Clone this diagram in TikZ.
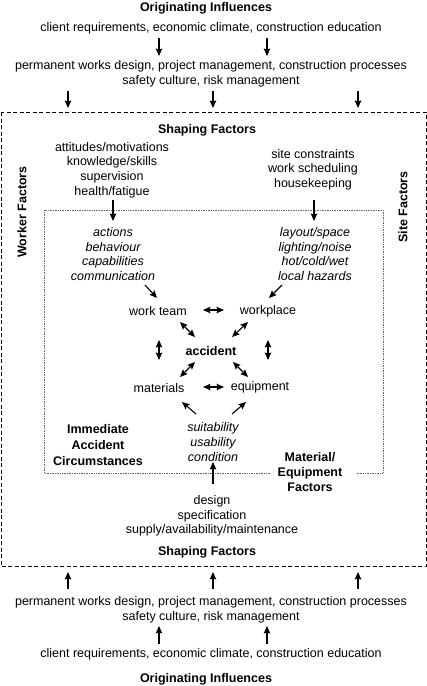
\documentclass[tikz,border=0pt]{standalone}
\usepackage{fontspec}
\setmainfont{Liberation Sans}
\usetikzlibrary{arrows.meta}
\begin{document}
\begin{tikzpicture}[x=1pt,y=-1pt,
  txt/.style={font=\fontsize{12.5}{14.7}\selectfont, inner sep=0pt, align=center},
  btxt/.style={txt, font=\fontsize{12.5}{14.7}\selectfont\bfseries},
  itxt/.style={txt, font=\fontsize{12.5}{14.7}\selectfont\itshape},
  arr/.style={line width=1.1pt, -{Stealth[length=7.5pt,width=6.5pt,inset=1.2pt]}},
  darr/.style={line width=1.1pt, {Stealth[length=7.5pt,width=6.5pt,inset=1.2pt]}-{Stealth[length=7.5pt,width=6.5pt,inset=1.2pt]}},
  outerbox/.style={line width=1pt, dash pattern=on 4pt off 2.5pt},
  innerbox/.style={line width=0.8pt, black!60, dash pattern=on 0.8pt off 0.9pt}]
\useasboundingbox (0,0) rectangle (427,686);

% boxes
\draw[outerbox] (1,112) rectangle (426,566);
\draw[innerbox] (270,473) -- (44,473) -- (44,210) -- (383,210) -- (383,473) -- (357,473);

% top texts
\node[btxt] (orig1) at (206,8) {Originating Influences};
\node[txt] (client1) at (211,28) {client requirements, economic climate, construction education};
\node[txt] (perm1) at (211,74) {permanent works design, project management, construction processes\\safety culture, risk management};
\node[btxt] (shape1) at (207,130) {Shaping Factors};

\node[txt] (worker) at (112,170) {attitudes/motivations\\knowledge/skills\\supervision\\health/fatigue};
\node[txt] (site) at (313,169.5) {site constraints\\work scheduling\\housekeeping};

\node[btxt, rotate=90] (wf) at (22,212) {Worker Factors};
\node[btxt, rotate=90] (sf) at (403,207) {Site Factors};

\node[itxt] (actions) at (113,254) {actions\\behaviour\\capabilities\\communication};
\node[itxt] (layout) at (315,254) {layout/space\\lighting/noise\\hot/cold/wet\\local hazards};

\node[txt] (team) at (158,311) {work team};
\node[txt] (place) at (268,311) {workplace};
\node[btxt] (acc) at (211,351) {accident};
\node[txt] (mat) at (159,388) {materials};
\node[txt] (equip) at (260,387) {equipment};

\node[itxt] (suit) at (213,442) {suitability\\usability\\condition};
\node[btxt, font=\fontsize{12.5}{16}\selectfont\bfseries] (imm) at (98,445) {Immediate\\Accident\\Circumstances};
\node[btxt, font=\fontsize{12.5}{15}\selectfont\bfseries] (meq) at (310,472) {Material/\\Equipment\\Factors};

\node[txt] (design) at (212,516) {design\\specification\\supply/availability/maintenance};
\node[btxt] (shape2) at (207,552) {Shaping Factors};
\node[txt] (perm2) at (211,609.5) {permanent works design, project management, construction processes\\safety culture, risk management};
\node[txt] (client2) at (211,654) {client requirements, economic climate, construction education};
\node[btxt] (orig2) at (206,679) {Originating Influences};

% coordinates for arrows
\coordinate (t1a) at (159,38); \coordinate (t1b) at (159,56);
\coordinate (t2a) at (267,38); \coordinate (t2b) at (267,56);
\coordinate (t3a) at (68,91);  \coordinate (t3b) at (68,108);
\coordinate (t4a) at (213,91); \coordinate (t4b) at (213,108);
\coordinate (t5a) at (358,91); \coordinate (t5b) at (358,108);
\coordinate (w1a) at (113,200); \coordinate (w1b) at (113,221);
\coordinate (s1a) at (314,200); \coordinate (s1b) at (314,221);
\coordinate (d1a) at (145,285); \coordinate (d1b) at (157,298);
\coordinate (d2a) at (282,285); \coordinate (d2b) at (269,298);
\coordinate (h1a) at (203,310); \coordinate (h1b) at (224,310);
\coordinate (q1a) at (180,322); \coordinate (q1b) at (195,337);
\coordinate (q2a) at (248,322); \coordinate (q2b) at (232,337);
\coordinate (v1a) at (159,340); \coordinate (v1b) at (159,360);
\coordinate (v2a) at (268,340); \coordinate (v2b) at (268,360);
\coordinate (q3a) at (180,377); \coordinate (q3b) at (195,362);
\coordinate (q4a) at (248,377); \coordinate (q4b) at (233,362);
\coordinate (h2a) at (203,387); \coordinate (h2b) at (224,387);
\coordinate (u1a) at (196,414); \coordinate (u1b) at (182,402);
\coordinate (u2a) at (232,414); \coordinate (u2b) at (246,402);
\coordinate (m1a) at (213,484); \coordinate (m1b) at (213,462);
\coordinate (b1a) at (68,589);  \coordinate (b1b) at (68,572);
\coordinate (b2a) at (213,589); \coordinate (b2b) at (213,572);
\coordinate (b3a) at (358,589); \coordinate (b3b) at (358,572);
\coordinate (b4a) at (159,644); \coordinate (b4b) at (159,626);
\coordinate (b5a) at (267,644); \coordinate (b5b) at (267,626);

\foreach \p in {t1,t2,t3,t4,t5,w1,s1,d1,d2,u1,u2,m1,b1,b2,b3,b4,b5}
  \draw[arr] (\p a) -- (\p b);
\foreach \p in {h1,q1,q2,v1,v2,q3,q4,h2}
  \draw[darr] (\p a) -- (\p b);
\end{tikzpicture}
\end{document}
